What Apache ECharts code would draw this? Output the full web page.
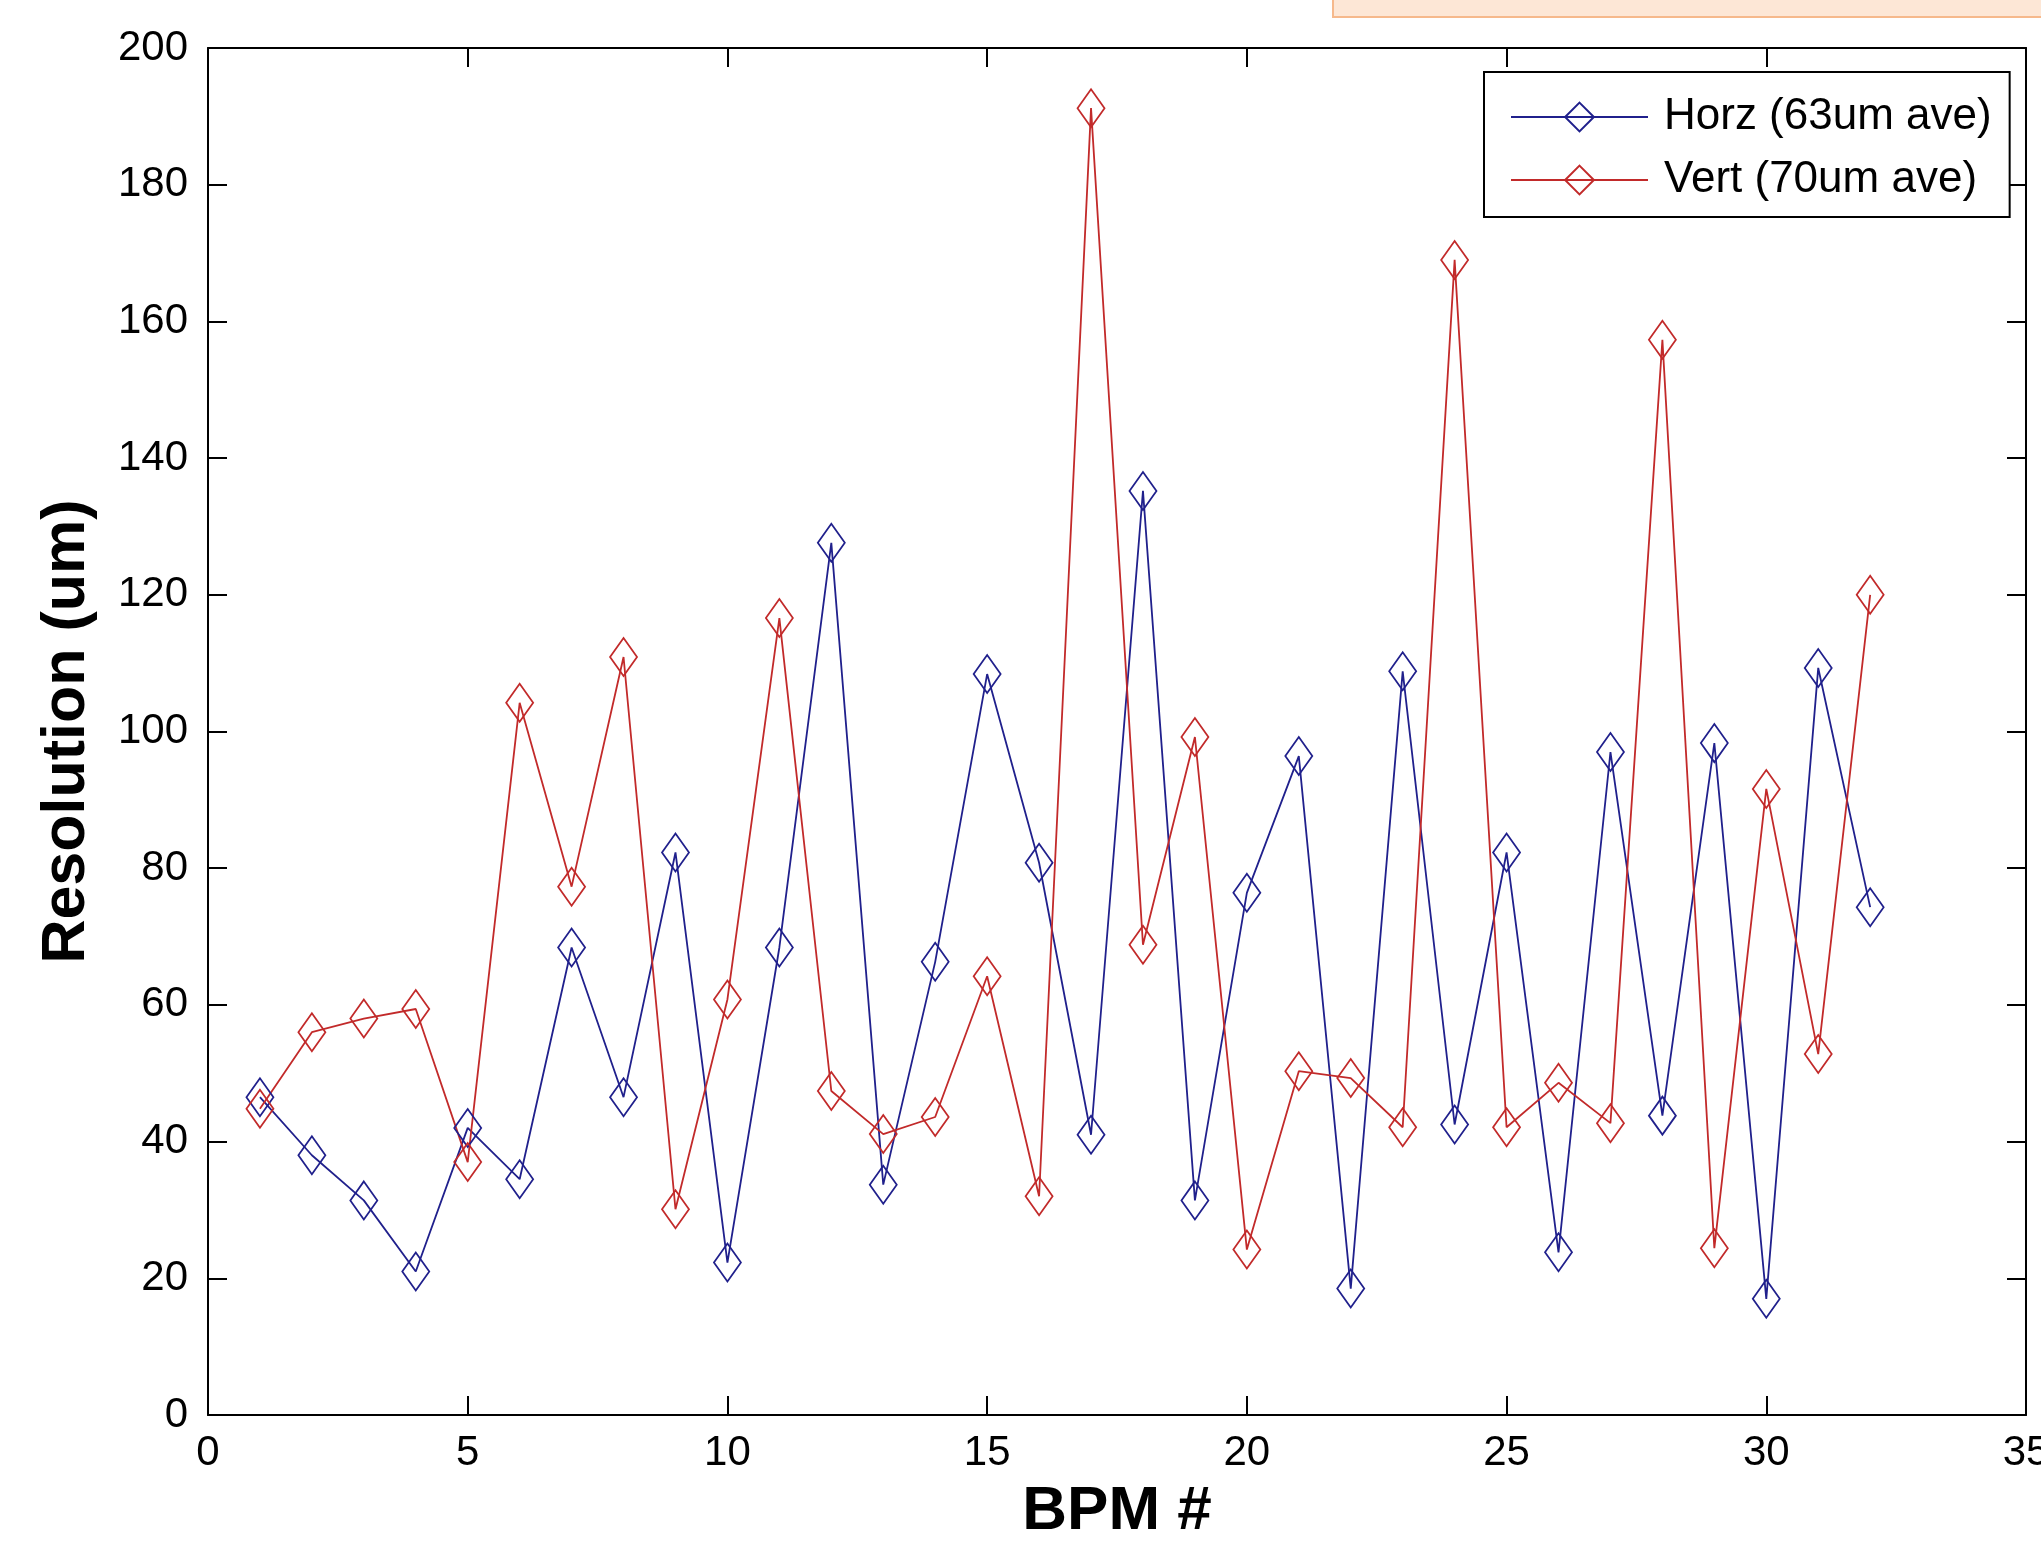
<!DOCTYPE html>
<html>
<head>
<meta charset="utf-8">
<script src="https://cdn.jsdelivr.net/npm/echarts@6/dist/echarts.min.js"></script>
<style>
html,body{margin:0;padding:0;background:#fff;overflow:hidden;}
#chart{width:2041px;height:1545px;}
</style>
</head>
<body>
<div id="chart"></div>
<script>
// BPM numbers
const bpm = [1,2,3,4,5,6,7,8,9,10,11,12,13,14,15,16,17,18,19,20,21,22,23,24,25,26,27,28,29,30,31,32];
// Horizontal resolution (um)
const horz = [46.5,38,31.4,21,42,34.5,68.4,46.5,82.3,22.3,68.4,127.6,33.7,66.3,108.4,80.8,41,135.2,31.4,76.4,96.4,18.5,108.8,42.5,82.3,23.8,97,43.8,98.3,17,109.3,74.3];
// Vertical resolution (um)
const vert = [44.8,56,58,59.4,37,104.2,77.3,110.9,30.1,60.8,116.6,47.4,41.1,43.6,64.2,32,191.2,68.8,99.2,24.2,50.3,49.3,42.1,169,42.1,48.6,42.7,157.3,24.4,91.6,52.8,120];
const seriesNames = ['Horz (63um ave)', 'Vert (70um ave)'];
const xTicks = {min: 0, max: 35, interval: 5};
const yTicks = {min: 0, max: 200, interval: 20};

const FONT = "'Liberation Sans', Arial, sans-serif";
const BLUE = '#20208c';
const RED = '#c22a2a';

const chart = echarts.init(document.getElementById('chart'), null, {renderer: 'canvas'});

function axisCommon() {
  return {
    axisLine: {show: true, onZero: false, lineStyle: {color: '#000', width: 2}},
    axisTick: {show: true, inside: true, length: 19, lineStyle: {color: '#000', width: 2}},
    splitLine: {show: false}
  };
}

function mkSeries(name, vals, color) {
  return {
    name: name,
    type: 'line',
    data: bpm.map((x, i) => [x, vals[i]]),
    xAxisIndex: 0,
    yAxisIndex: 0,
    symbol: 'diamond',
    symbolSize: [27, 38],
    showSymbol: true,
    animation: false,
    lineStyle: {color: color, width: 1.8},
    itemStyle: {color: 'rgba(0,0,0,0)', borderColor: color, borderWidth: 1.8}
  };
}

const option = {
  backgroundColor: '#fff',
  animation: false,
  grid: {left: 208, right: 15, top: 48, bottom: 130, containLabel: false, outerBoundsMode: 'none'},
  xAxis: [
    Object.assign({
      type: 'value', position: 'bottom',
      min: xTicks.min, max: xTicks.max, interval: xTicks.interval,
      name: 'BPM #', nameLocation: 'middle', nameGap: 66,
      nameTextStyle: {fontSize: 62, fontWeight: 'bold', color: '#000', fontFamily: FONT},
      axisLabel: {show: true, color: '#000', fontSize: 42, fontFamily: FONT, margin: 17}
    }, axisCommon()),
    Object.assign({
      type: 'value', position: 'top',
      min: xTicks.min, max: xTicks.max, interval: xTicks.interval,
      axisLabel: {show: false}
    }, axisCommon())
  ],
  yAxis: [
    Object.assign({
      type: 'value', position: 'left',
      min: yTicks.min, max: yTicks.max, interval: yTicks.interval,
      name: 'Resolution (um)', nameLocation: 'middle', nameGap: 110, nameRotate: 90,
      nameTextStyle: {fontSize: 61, fontWeight: 'bold', color: '#000', fontFamily: FONT},
      axisLabel: {show: true, color: '#000', fontSize: 42, fontFamily: FONT, margin: 20}
    }, axisCommon()),
    Object.assign({
      type: 'value', position: 'right',
      min: yTicks.min, max: yTicks.max, interval: yTicks.interval,
      axisLabel: {show: false}
    }, axisCommon())
  ],
  legend: {
    data: seriesNames,
    orient: 'vertical',
    left: 1484,
    top: 72,
    itemWidth: 137,
    itemHeight: 36,
    itemGap: 19,
    padding: [23, 18, 15, 26],
    backgroundColor: '#fff',
    borderColor: '#000',
    borderWidth: 2,
    borderRadius: 0,
    textStyle: {fontSize: 44, color: '#000', fontFamily: FONT, padding: [0, 0, 0, 11]}
  },
  graphic: [
    {
      type: 'rect',
      shape: {x: 1333, y: -4, width: 720, height: 21},
      style: {fill: '#fde7d6', stroke: '#f6b98c', lineWidth: 2},
      silent: true
    }
  ],
  series: [
    mkSeries(seriesNames[0], horz, BLUE),
    mkSeries(seriesNames[1], vert, RED)
  ]
};

chart.setOption(option);
</script>
</body>
</html>
